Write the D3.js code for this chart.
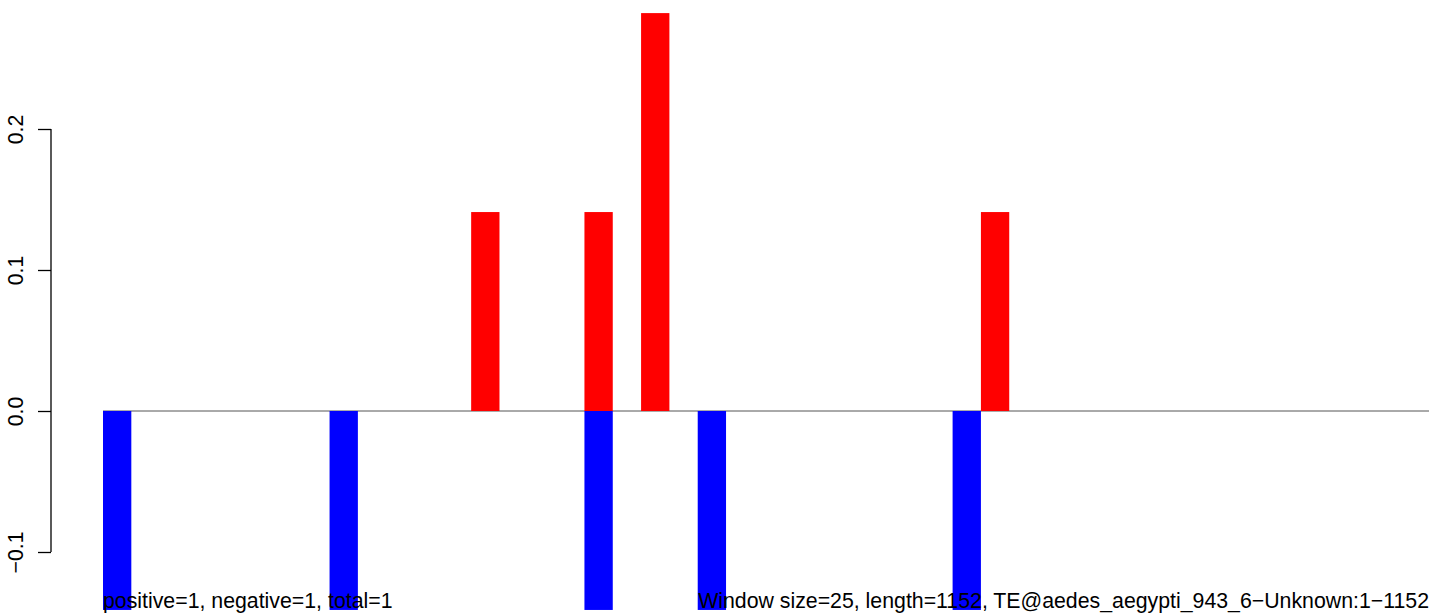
<!DOCTYPE html>
<html>
<head>
<meta charset="utf-8">
<script src="https://cdn.jsdelivr.net/npm/d3@7"></script>
<style>
  body { margin: 0; background: #fff; }
  text { font-family: "Liberation Sans", Arial, sans-serif; }
</style>
</head>
<body>
<div class="chart"></div>
<script>
// windows of 25 bp along the 1152 bp TE (47 windows)
const windows = d3.range(47);
// positive-strand bars (window index, value)
const posWindows = [13, 17, 19, 31];
const posValues = [0.1411, 0.1411, 0.2822, 0.1411];
// negative-strand bars
const negWindows = [0, 8, 17, 21, 30];
const negValues = [-0.1411, -0.1411, -0.1411, -0.1411, -0.1411];
const yTicks = [-0.1, 0.0, 0.1, 0.2];

const leftLabel = "positive=1, negative=1, total=1";
const rightLabel = "Window size=25, length=1152, TE@aedes_aegypti_943_6\u2212Unknown:1\u22121152";

const width = 1429, height = 615;
const fontSize = 21.3;

const svg = d3.select(".chart").append("svg")
    .attr("width", width)
    .attr("height", height);

const x = d3.scaleBand()
    .domain(windows)
    .range([103, 103 + 47 * 28.32])
    .padding(0);

const y = d3.scaleLinear()
    .domain([-0.1, 0.2])
    .range([552, 129]);

// zero line
svg.append("line")
    .attr("x1", x(0))
    .attr("x2", width)
    .attr("y1", y(0))
    .attr("y2", y(0))
    .attr("stroke", "#555")
    .attr("stroke-width", 1);

const pos = posWindows.map((w, i) => ({w: w, v: posValues[i]}));
const neg = negWindows.map((w, i) => ({w: w, v: negValues[i]}));

svg.selectAll("rect.pos")
    .data(pos)
    .enter()
    .append("rect")
    .attr("class", "pos")
    .attr("x", d => x(d.w))
    .attr("width", x.bandwidth())
    .attr("y", d => y(d.v))
    .attr("height", d => y(0) - y(d.v))
    .attr("fill", "#ff0000");

svg.selectAll("rect.neg")
    .data(neg)
    .enter()
    .append("rect")
    .attr("class", "neg")
    .attr("x", d => x(d.w))
    .attr("width", x.bandwidth())
    .attr("y", y(0))
    .attr("height", d => y(d.v) - y(0))
    .attr("fill", "#0000ff");

// y axis, R style with rotated labels
const yAxis = d3.axisLeft(y)
    .tickValues(yTicks)
    .tickSize(13)
    .tickFormat(d3.format(".1f"));

const gy = svg.append("g")
    .attr("transform", "translate(51,0)")
    .call(yAxis);

gy.select(".domain")
    .attr("d", `M0,${y(0.2)}V${y(-0.1)}`)
    .attr("stroke", "#000")
    .attr("stroke-width", 1.3);
gy.selectAll(".tick line").attr("stroke", "#000").attr("stroke-width", 1.3);
gy.selectAll(".tick text")
    .attr("transform", "rotate(-90)")
    .attr("x", 0)
    .attr("y", -28)
    .attr("dy", null)
    .attr("text-anchor", "middle")
    .attr("fill", "#000")
    .style("font-size", fontSize + "px")
    .style("font-family", '"Liberation Sans", Arial, sans-serif');

// bottom annotations
svg.append("text")
    .attr("x", 103)
    .attr("y", 608)
    .style("font-size", fontSize + "px")
    .text(leftLabel);

svg.append("text")
    .attr("x", width)
    .attr("y", 608)
    .attr("text-anchor", "end")
    .style("font-size", fontSize + "px")
    .text(rightLabel);
</script>
</body>
</html>
